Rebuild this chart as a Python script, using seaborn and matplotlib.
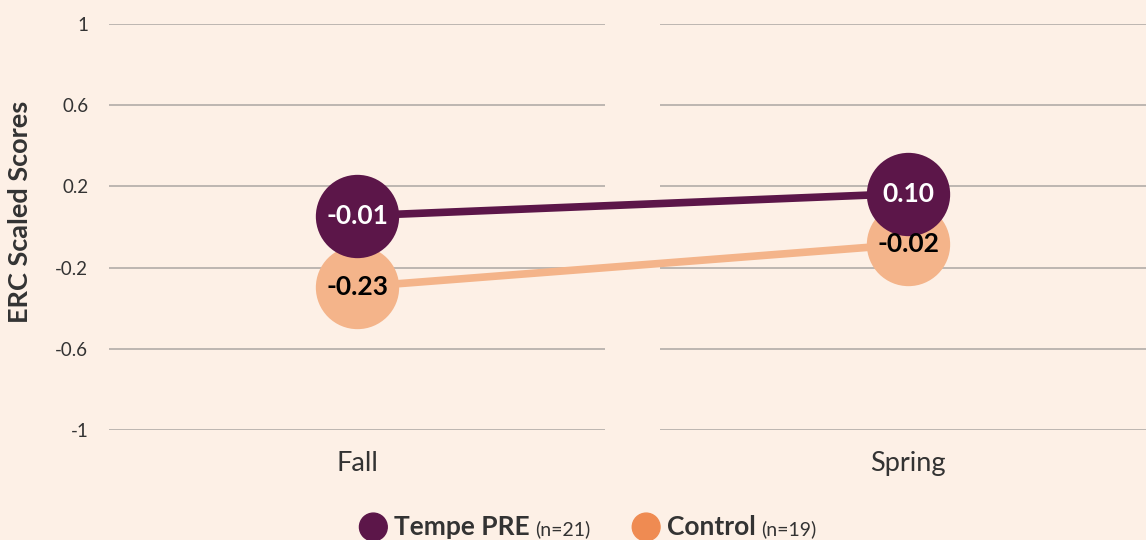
import matplotlib
matplotlib.use("Agg")
import matplotlib.pyplot as plt
import matplotlib.transforms as mtransforms
from matplotlib.offsetbox import AnchoredOffsetbox, HPacker, TextArea, DrawingArea
from matplotlib.patches import Circle
import seaborn as sns
import pandas as pd

# ---- data ----
seasons = ["Fall", "Spring"]
groups = ["Tempe PRE", "Control"]
group_n = [21, 19]
tempe_pre = [-0.01, 0.10]
control = [-0.23, -0.02]
y_ticks = [1, 0.6, 0.2, -0.2, -0.6, -1]
y_tick_labels = ["1", "0.6", "0.2", "-0.2", "-0.6", "-1"]

# ---- style ----
BG = "#FDF0E6"
PURPLE = "#5C1649"
ORANGE_LIGHT = "#F4B48A"
ORANGE = "#EF8B52"
TEXT = "#333333"
GRID = "#ABA6A3"

sns.set_theme(style="white")
plt.rcParams["font.family"] = ["Lato", "DejaVu Sans"]

df = pd.DataFrame({
    "Season": seasons * 2,
    "Group": [groups[0]] * len(seasons) + [groups[1]] * len(seasons),
    "Score": tempe_pre + control,
})

fig = plt.figure(figsize=(11.46, 5.40), dpi=100, facecolor=BG)
ax = fig.add_axes([107 / 1146, 1 - 430 / 540, 1 - 107 / 1146, (430 - 24) / 540])
ax.set_facecolor(BG)

# broken gridlines (one segment per category band)
for i in range(len(seasons)):
    ax.hlines(y_ticks, i - 0.45, i + 0.45, color=GRID, linewidth=1.1, zorder=0)

styles = {
    "Control": dict(color=ORANGE_LIGHT, dodge=-9.5, txt="black"),
    "Tempe PRE": dict(color=PURPLE, dodge=9.5, txt="white"),
}

for g in ["Control", "Tempe PRE"]:
    st = styles[g]
    sub = df[df["Group"] == g]
    n_before = len(ax.lines)
    sns.lineplot(data=sub, x="Season", y="Score", color=st["color"], marker="o",
                 markersize=60, markeredgewidth=0, linewidth=5.5, errorbar=None,
                 sort=False, legend=False, ax=ax)
    tr = mtransforms.offset_copy(ax.transData, fig=fig, x=0, y=st["dodge"], units="points")
    for ln in ax.lines[n_before:]:
        ln.set_transform(tr)
        ln.set_clip_on(False)
    for i, v in enumerate(sub["Score"]):
        ax.annotate(f"{v:.2f}", xy=(i, v), xytext=(0, st["dodge"]), textcoords="offset points",
                    ha="center", va="center", fontsize=19, fontweight="bold",
                    color=st["txt"], zorder=10)

ax.set_xlim(-0.454, 1.432)
ax.set_ylim(-1, 1)
ax.set_yticks(y_ticks, y_tick_labels)
ax.set_xticks(range(len(seasons)), seasons)
ax.tick_params(axis="y", length=0, pad=13.5, labelsize=13.5, labelcolor=TEXT)
ax.tick_params(axis="x", length=0, pad=15, labelsize=19.5, labelcolor=TEXT)
for s in ax.spines.values():
    s.set_visible(False)
ax.set_xlabel("")
ax.set_ylabel("ERC Scaled Scores", fontsize=19.5, fontweight="bold", color=TEXT)
ax.yaxis.set_label_coords(-0.072, 0.537)

# ---- legend ----
children = []
for idx, (name, n, col) in enumerate(zip(groups, group_n, [PURPLE, ORANGE])):
    da = DrawingArea(20, 20, 0, 0)
    da.add_artist(Circle((10, 10), 10, color=col))
    t1 = TextArea(name, textprops=dict(fontsize=19, fontweight="bold", color=TEXT))
    t2 = TextArea(f"(n={n})", textprops=dict(fontsize=14, color=TEXT))
    txt = HPacker(children=[t1, t2], sep=4, pad=0, align="baseline")
    item = HPacker(children=[da, txt], sep=5, pad=0, align="center")
    children.append(item)
box = HPacker(children=children, sep=30, pad=0, align="center")
anch = AnchoredOffsetbox(loc="center", child=box, pad=0, borderpad=0, frameon=False,
                         bbox_to_anchor=(588 / 1146, 1 - 527 / 540),
                         bbox_transform=fig.transFigure)
fig.add_artist(anch)

fig.savefig("out.png", dpi=100, facecolor=BG)
